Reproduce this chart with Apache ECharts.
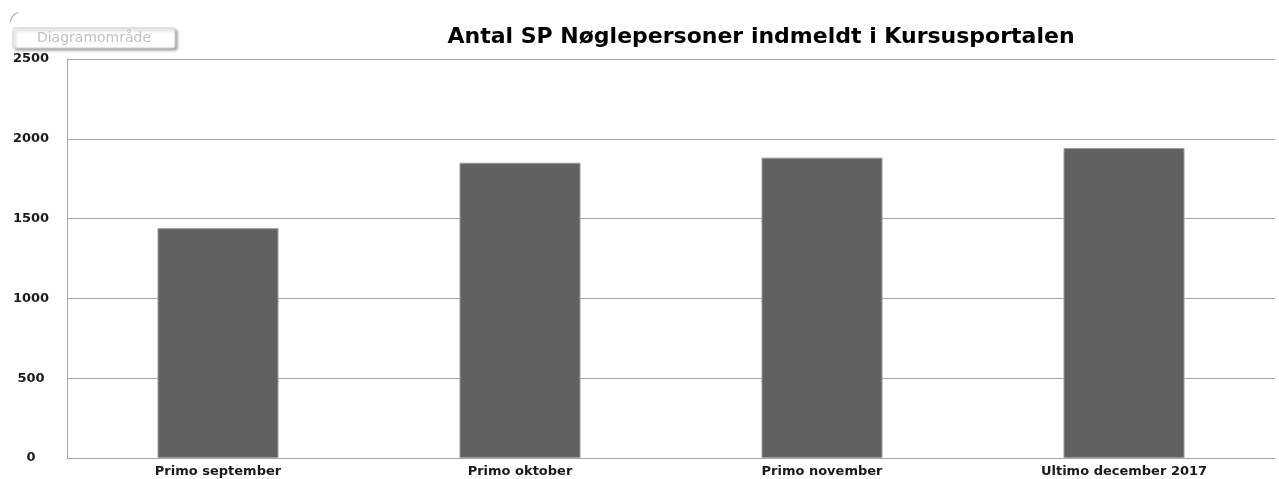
<!DOCTYPE html>
<html>
<head>
<meta charset="utf-8">
<script src="https://cdn.jsdelivr.net/npm/echarts@6/dist/echarts.min.js"></script>
<style>
html,body{margin:0;padding:0;background:#fff;}
#chart{width:1279px;height:479px;}
</style>
</head>
<body>
<div id="chart"></div>
<script>
const titleText = 'Antal SP Nøglepersoner indmeldt i Kursusportalen';
const categories = ['Primo september', 'Primo oktober', 'Primo november', 'Ultimo december 2017'];
const values = [1440, 1850, 1882, 1942];
const yTicks = { min: 0, max: 2500, interval: 500 };

const chart = echarts.init(document.getElementById('chart'), null, { renderer: 'canvas' });
chart.setOption({
  animation: false,
  backgroundColor: '#ffffff',
  title: {
    text: titleText,
    left: 756,
    top: 21,
    textAlign: 'center',
    textStyle: { fontFamily: 'DejaVu Sans', fontSize: 22, fontWeight: 'bold', color: '#000' }
  },
  grid: { left: 67, right: 4, top: 59, bottom: 21, containLabel: false },
  xAxis: {
    type: 'category',
    data: categories,
    axisLine: { show: true, lineStyle: { color: '#a6a6a6', width: 1 } },
    axisTick: { show: false },
    axisLabel: { margin: 7, fontFamily: 'DejaVu Sans', fontSize: 13, fontWeight: 'bold', color: '#1a1a1a' }
  },
  yAxis: {
    type: 'value',
    min: yTicks.min, max: yTicks.max, interval: yTicks.interval,
    axisLine: { show: true, lineStyle: { color: '#a6a6a6', width: 1 } },
    axisTick: { show: false },
    splitLine: { show: true, lineStyle: { color: '#a6a6a6', width: 1 } },
    axisLabel: {
      margin: 36, align: 'center', fontFamily: 'DejaVu Sans', fontSize: 13, fontWeight: 'bold', color: '#1a1a1a',
      formatter: v => String(v)
    }
  },
  series: [{
    type: 'bar',
    data: values,
    barWidth: 121,
    itemStyle: { color: '#616161', borderColor: '#9a9a9a', borderWidth: 1 }
  }],
  graphic: [
    {
      type: 'arc',
      shape: { cx: 22, cy: 24, r: 12, startAngle: Math.PI * 1.05, endAngle: Math.PI * 1.4 },
      style: { stroke: '#bbbbbb', lineWidth: 1.5, fill: null }
    },
    {
      type: 'rect',
      shape: { x: 13, y: 28, width: 162, height: 20, r: 2 },
      style: { fill: '#ffffff', stroke: '#d0d0d0', lineWidth: 1, shadowColor: 'rgba(0,0,0,0.35)', shadowBlur: 3, shadowOffsetX: 2, shadowOffsetY: 2 }
    },
    {
      type: 'text',
      x: 94, y: 38,
      style: { text: 'Diagramområde', fontFamily: 'DejaVu Sans', fontSize: 14, fill: '#c2c2c2', align: 'center', verticalAlign: 'middle' }
    }
  ]
});
</script>
</body>
</html>
